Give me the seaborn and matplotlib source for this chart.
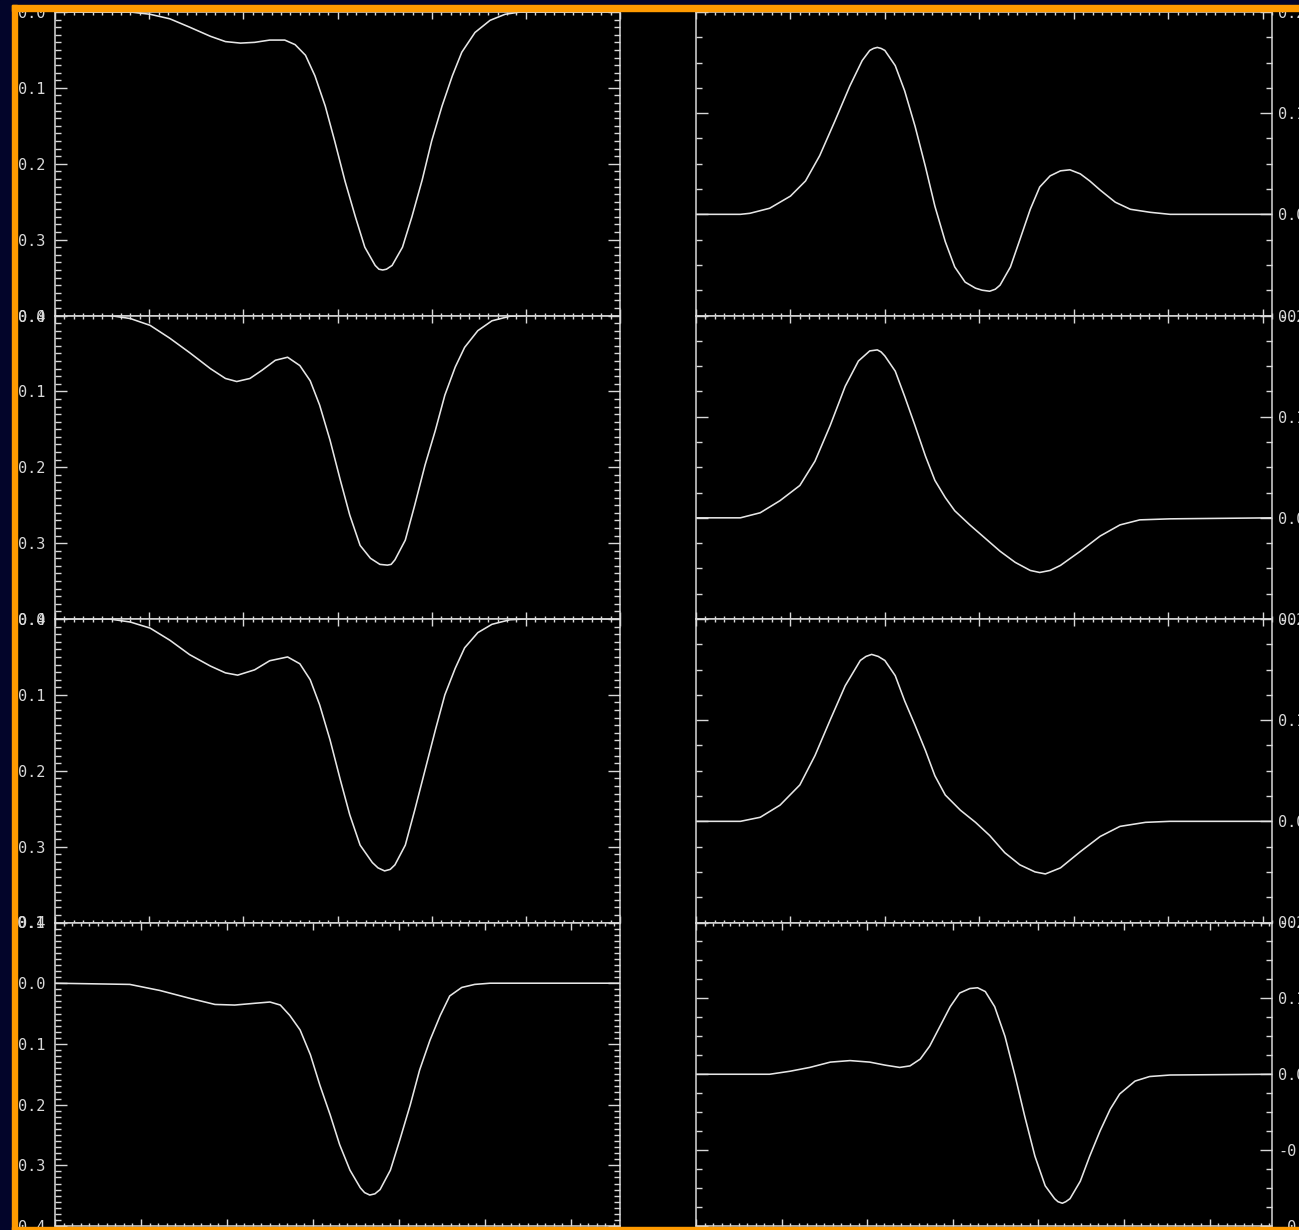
import matplotlib
matplotlib.use('Agg')
import matplotlib.pyplot as plt
import seaborn as sns
from matplotlib.patches import Rectangle
from matplotlib.ticker import MultipleLocator, FormatStrFormatter

# left column: line depth (inverted axis), right column: circular polarisation
i1_x = [0, 8.0, 10.1, 12.2, 14.3, 16.5, 18.1, 19.7, 21.2, 22.8, 24.4, 25.5, 26.6, 27.6, 28.7, 29.7,
        30.8, 31.9, 32.9, 34.0, 34.4, 34.8, 35.2, 35.8, 36.9, 37.9, 39.0, 40.0, 41.1, 42.2, 43.2,
        44.6, 46.2, 47.8, 49.4, 60.0]
i1_y = [0, 0, 0.003, 0.009, 0.020, 0.032, 0.039, 0.041, 0.040, 0.037, 0.037, 0.043, 0.057, 0.084,
        0.124, 0.170, 0.223, 0.270, 0.310, 0.334, 0.339, 0.340, 0.339, 0.334, 0.310, 0.270, 0.221,
        0.170, 0.124, 0.084, 0.053, 0.027, 0.011, 0.003, 0, 0]

i2_x = [0, 5.8, 8.0, 10.1, 12.2, 14.3, 16.5, 18.1, 19.3, 20.7, 22.0, 23.4, 24.7, 26.0, 27.1, 28.1,
        29.2, 30.3, 31.3, 32.4, 33.5, 34.5, 35.3, 35.7, 36.1, 37.2, 38.2, 39.3, 40.4, 41.4, 42.5,
        43.5, 44.9, 46.4, 48.3, 49.9, 60.0]
i2_y = [0, 0, 0.004, 0.013, 0.030, 0.049, 0.070, 0.083, 0.087, 0.083, 0.072, 0.059, 0.055, 0.066,
        0.086, 0.118, 0.164, 0.217, 0.263, 0.303, 0.320, 0.328, 0.329, 0.328, 0.322, 0.296, 0.250,
        0.197, 0.151, 0.105, 0.068, 0.042, 0.020, 0.007, 0.001, 0, 0]

i3_x = [0, 5.8, 8.0, 10.1, 12.2, 14.3, 16.5, 18.1, 19.4, 21.2, 22.8, 24.7, 26.0, 27.1, 28.1, 29.2,
        30.3, 31.3, 32.4, 33.7, 34.3, 35.0, 35.6, 36.1, 37.2, 38.2, 39.3, 40.4, 41.4, 42.5, 43.5,
        44.9, 46.4, 48.3, 49.9, 60.0]
i3_y = [0, 0, 0.004, 0.012, 0.028, 0.047, 0.062, 0.071, 0.074, 0.067, 0.055, 0.050, 0.059, 0.080,
        0.113, 0.159, 0.212, 0.258, 0.298, 0.321, 0.328, 0.332, 0.330, 0.324, 0.298, 0.252, 0.199,
        0.146, 0.100, 0.065, 0.038, 0.018, 0.007, 0.001, 0, 0]

i4_x = [0, 8.7, 12.2, 15.7, 18.6, 20.9, 23.3, 25.0, 26.2, 27.3, 28.5, 29.7, 30.8, 32.0, 33.1, 34.3,
        35.5, 36.0, 36.6, 37.2, 37.8, 39.0, 40.1, 41.3, 42.4, 43.6, 44.8, 45.9, 47.3, 48.8, 50.6, 65.7]
i4_y = [0, 0.002, 0.012, 0.025, 0.035, 0.036, 0.033, 0.031, 0.036, 0.053, 0.077, 0.118, 0.168,
        0.217, 0.266, 0.308, 0.337, 0.345, 0.349, 0.347, 0.340, 0.308, 0.258, 0.201, 0.143, 0.094,
        0.053, 0.021, 0.007, 0.002, 0, 0]

v1_x = [0, 4.7, 5.7, 7.8, 10.0, 11.6, 13.1, 14.7, 16.3, 17.6, 18.4, 18.8, 19.2, 19.6, 20.0, 21.1,
        22.1, 23.2, 24.3, 25.3, 26.4, 27.4, 28.5, 29.6, 30.3, 31.1, 31.7, 32.2, 33.3, 34.3, 35.4,
        36.4, 37.5, 38.6, 39.6, 40.7, 41.7, 42.8, 44.4, 46.0, 48.1, 50.2, 61.0]
v1_y = [0, 0, 0.001, 0.006, 0.018, 0.033, 0.058, 0.092, 0.127, 0.152, 0.162, 0.164, 0.165, 0.164,
        0.162, 0.147, 0.122, 0.087, 0.047, 0.008, -0.027, -0.052, -0.067, -0.073, -0.075, -0.076,
        -0.074, -0.070, -0.052, -0.025, 0.005, 0.027, 0.038, 0.043, 0.044, 0.040, 0.033, 0.024,
        0.012, 0.005, 0.002, 0, 0]

v2_x = [0, 4.7, 6.8, 8.9, 11.0, 12.6, 14.2, 15.8, 17.2, 18.4, 19.2, 19.6, 20.0, 21.1, 22.1, 23.2,
        24.3, 25.3, 26.4, 27.4, 29.0, 30.6, 32.2, 33.8, 35.4, 36.4, 37.5, 38.6, 40.7, 42.8, 44.9,
        47.0, 50.2, 61.0]
v2_y = [0, 0, 0.005, 0.017, 0.032, 0.056, 0.091, 0.130, 0.155, 0.165, 0.166, 0.164, 0.160, 0.145,
        0.120, 0.091, 0.061, 0.037, 0.020, 0.007, -0.007, -0.020, -0.033, -0.044, -0.052, -0.054,
        -0.052, -0.047, -0.033, -0.018, -0.007, -0.002, -0.001, 0]

v3_x = [0, 4.7, 6.8, 8.9, 11.0, 12.6, 14.2, 15.8, 17.4, 18.0, 18.6, 19.3, 20.0, 21.1, 22.1, 23.2,
        24.3, 25.3, 26.4, 28.0, 29.6, 31.1, 32.7, 34.3, 35.9, 37.0, 38.6, 40.7, 42.8, 44.9, 47.6,
        50.2, 61.0]
v3_y = [0, 0, 0.004, 0.016, 0.036, 0.065, 0.100, 0.134, 0.159, 0.163, 0.165, 0.163, 0.159, 0.144,
        0.119, 0.095, 0.070, 0.045, 0.026, 0.011, -0.001, -0.014, -0.031, -0.043, -0.050, -0.052,
        -0.046, -0.030, -0.015, -0.005, -0.001, 0, 0]

v4_x = [0, 8.6, 11.0, 13.3, 15.7, 18.0, 20.3, 22.1, 23.8, 25.0, 26.2, 27.3, 28.5, 29.7, 30.8, 32.0,
        32.9, 33.8, 34.9, 36.1, 37.3, 38.4, 39.6, 40.8, 41.9, 42.3, 42.8, 43.2, 43.7, 44.9, 46.0,
        47.2, 48.4, 49.5, 51.3, 53.0, 55.4, 67.3]
v4_y = [0, 0, 0.004, 0.009, 0.016, 0.018, 0.016, 0.012, 0.009, 0.011, 0.020, 0.037, 0.063, 0.089,
        0.107, 0.113, 0.114, 0.109, 0.089, 0.050, -0.003, -0.055, -0.108, -0.147, -0.164, -0.168,
        -0.170, -0.168, -0.164, -0.141, -0.108, -0.075, -0.046, -0.026, -0.009, -0.003, -0.001, 0]

left_curves = [(i1_x, i1_y), (i2_x, i2_y), (i3_x, i3_y), (i4_x, i4_y)]
right_curves = [(v1_x, v1_y), (v2_x, v2_y), (v3_x, v3_y), (v4_x, v4_y)]
left_xmax = [60, 60, 60, 65.7]
right_xmax = [61, 61, 61, 67.3]
left_ylim = [(0.4, 0.0), (0.4, 0.0), (0.4, 0.0), (0.4, -0.1)]
right_ylim = [(-0.1, 0.2), (-0.1, 0.2), (-0.1, 0.2), (-0.2, 0.2)]

sns.set_theme(style='dark')
plt.rcParams['font.family'] = ['DejaVu Sans Mono', 'DejaVu Sans']

W, H = 1299, 1230
fg = '#d8d8d8'
fig = plt.figure(figsize=(W / 100, H / 100), dpi=100, facecolor='black')

top, ph = 12, 303.5


def panel(x0, x1, row):
    ytop = top + row * ph
    ax = fig.add_axes([x0 / W, 1 - (ytop + ph) / H, (x1 - x0) / W, ph / H])
    ax.set_facecolor('black')
    for s in ax.spines.values():
        s.set_color(fg)
        s.set_linewidth(1.1)
    ax.grid(False)
    return ax


def style_ticks(ax, yminor, labelleft, pad):
    ax.xaxis.set_major_locator(MultipleLocator(10))
    ax.xaxis.set_minor_locator(MultipleLocator(1))
    ax.yaxis.set_major_locator(MultipleLocator(0.1))
    ax.yaxis.set_minor_locator(MultipleLocator(yminor))
    ax.yaxis.set_major_formatter(FormatStrFormatter('%.1f'))
    ax.tick_params(which='both', direction='in', colors=fg, width=1.0,
                   left=True, right=True, top=True, bottom=True,
                   labelleft=labelleft, labelright=not labelleft,
                   labelbottom=False, labeltop=False)
    ax.tick_params(axis='y', which='major', length=8.6, pad=pad, labelsize=11, labelcolor=fg)
    ax.tick_params(axis='y', which='minor', length=4.3)
    ax.tick_params(axis='x', which='major', length=5)
    ax.tick_params(axis='x', which='minor', length=2.5)
    ax.set_xlabel('')
    ax.set_ylabel('')


for row in range(4):
    # left column
    ax = panel(55, 620, row)
    xs, ys = left_curves[row]
    sns.lineplot(x=xs, y=ys, ax=ax, color='#e6e6e6', linewidth=1.15, estimator=None, sort=False)
    ax.set_xlim(0, left_xmax[row])
    ax.set_ylim(*left_ylim[row])
    style_ticks(ax, 0.01, True, 7)

    # right column
    ax = panel(696, 1272, row)
    xs, ys = right_curves[row]
    sns.lineplot(x=xs, y=ys, ax=ax, color='#e6e6e6', linewidth=1.15, estimator=None, sort=False)
    ax.set_xlim(0, right_xmax[row])
    ax.set_ylim(*right_ylim[row])
    style_ticks(ax, 0.025, False, 4.5)

# slide frame: navy margin and orange border drawn over everything
navy = '#03052a'
orange = '#ff9a00'
fig.add_artist(Rectangle((0, 0), 12 / W, 1, transform=fig.transFigure, color=navy, zorder=50))
fig.add_artist(Rectangle((0, 1 - 5 / H), 1, 5 / H, transform=fig.transFigure, color=navy, zorder=50))
fig.add_artist(Rectangle((12 / W, 0), 5 / W, 1 - 5 / H, transform=fig.transFigure, color=orange, zorder=51))
fig.add_artist(Rectangle((12 / W, 1 - 11 / H), 1, 6 / H, transform=fig.transFigure, color=orange, zorder=51))
fig.add_artist(Rectangle((12 / W, 0), 1, 3 / H, transform=fig.transFigure, color=orange, zorder=51))

fig.savefig('out.png', dpi=100, facecolor='black')
